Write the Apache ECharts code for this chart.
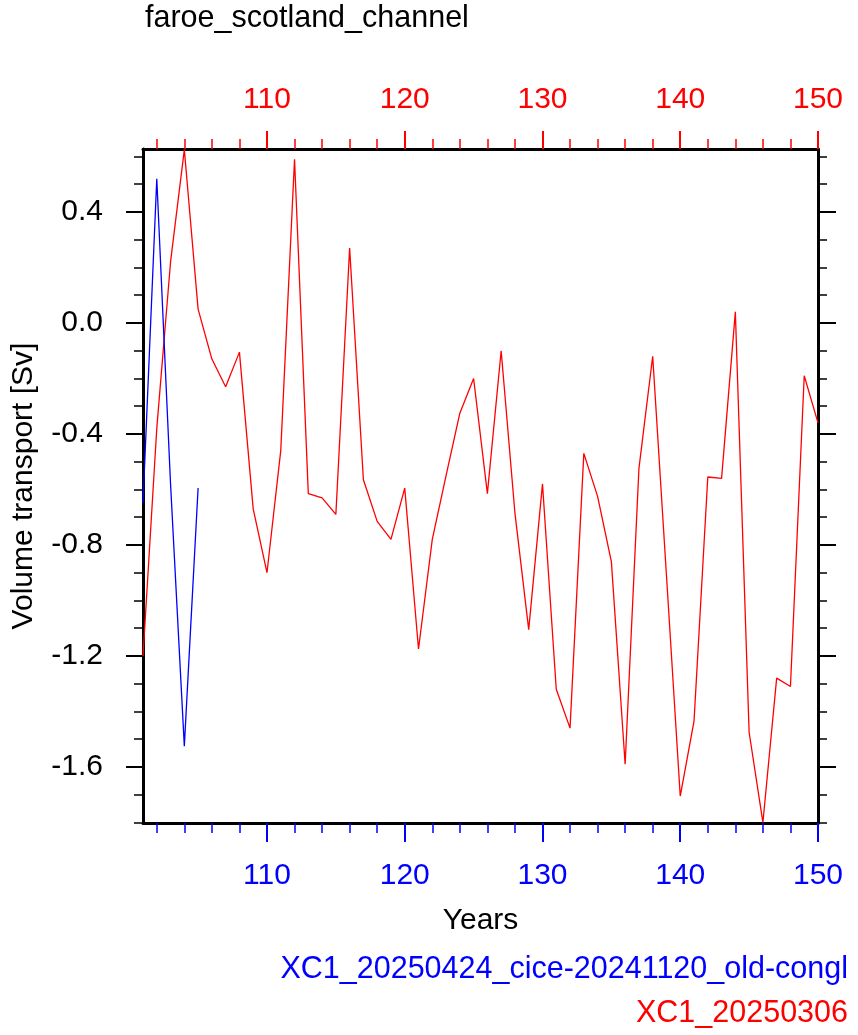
<!DOCTYPE html>
<html>
<head>
<meta charset="utf-8">
<script src="https://cdn.jsdelivr.net/npm/echarts@6/dist/echarts.min.js"></script>
<style>
  html, body { margin: 0; padding: 0; background: #fff; }
  #main { width: 858px; height: 1035px; }
</style>
</head>
<body>
<div id="main"></div>
<script>
var years = [101, 102, 103, 104, 105, 106, 107, 108, 109, 110,
  111, 112, 113, 114, 115, 116, 117, 118, 119, 120,
  121, 122, 123, 124, 125, 126, 127, 128, 129, 130,
  131, 132, 133, 134, 135, 136, 137, 138, 139, 140,
  141, 142, 143, 144, 145, 146, 147, 148, 149, 150];

// XC1_20250306 (red, full run)
var redValues = [-1.20, -0.38, 0.22, 0.625, 0.05, -0.13, -0.23, -0.105, -0.67, -0.90,
  -0.46, 0.59, -0.615, -0.63, -0.69, 0.27, -0.565, -0.715, -0.78, -0.595,
  -1.175, -0.78, -0.55, -0.325, -0.20, -0.615, -0.10, -0.685, -1.105, -0.58,
  -1.32, -1.46, -0.47, -0.625, -0.86, -1.59, -0.525, -0.12, -0.91, -1.705,
  -1.435, -0.555, -0.56, 0.04, -1.475, -1.80, -1.28, -1.31, -0.19, -0.36];

// XC1_20250424_cice-20241120_old-congl (blue, first 5 years only)
var blueYears = [101, 102, 103, 104, 105];
var blueValues = [-0.65, 0.52, -0.58, -1.525, -0.595];

var xMajorTicks = [110, 120, 130, 140, 150];
var xMinorTicks = [102, 104, 106, 108, 112, 114, 116, 118, 122, 124, 126, 128,
  132, 134, 136, 138, 142, 144, 146, 148];
var yMajorTicks = [-1.6, -1.2, -0.8, -0.4, 0.0, 0.4];
var yMinorTicks = [-1.8, -1.7, -1.5, -1.4, -1.3, -1.1, -1.0, -0.9, -0.7, -0.6,
  -0.5, -0.3, -0.2, -0.1, 0.1, 0.2, 0.3, 0.5, 0.6];

var xMin = 101, xMax = 150;
var yMin = -1.802, yMax = 0.627;

var font = 'Liberation Sans, Arial, Helvetica, sans-serif';

function zip(xs, ys) {
  var out = [];
  for (var i = 0; i < xs.length; i++) out.push([xs[i], ys[i]]);
  return out;
}

function xAx(pos, ticks, len, color, major, margin) {
  return {
    type: 'value', position: pos, min: xMin, max: xMax,
    axisLine: { show: major, onZero: false, lineStyle: { color: '#000', width: 3 } },
    axisTick: { show: true, customValues: ticks, length: len, lineStyle: { color: color, width: major ? 2 : 1.5 } },
    axisLabel: {
      show: major, customValues: ticks, margin: margin,
      color: color, fontSize: 30, fontFamily: font
    },
    splitLine: { show: false }
  };
}

function yAx(pos, ticks, len, major, labels) {
  return {
    type: 'value', position: pos, min: yMin, max: yMax,
    axisLine: { show: major, onZero: false, lineStyle: { color: '#000', width: 3 } },
    axisTick: { show: true, customValues: ticks, length: len, lineStyle: { color: '#000', width: major ? 2 : 1.5 } },
    axisLabel: {
      show: labels, customValues: ticks, margin: 40,
      color: '#000', fontSize: 30, fontFamily: font,
      formatter: function (v) { return v.toFixed(1); }
    },
    splitLine: { show: false }
  };
}

var chart = echarts.init(document.getElementById('main'));

var xBottom = xAx('bottom', xMajorTicks, 19, '#0000ff', true, 38);
xBottom.name = 'Years';
xBottom.nameLocation = 'middle';
xBottom.nameGap = 83;
xBottom.nameTextStyle = { color: '#000', fontSize: 30, fontFamily: font };

var yLeft = yAx('left', yMajorTicks, 17, true, true);
yLeft.name = 'Volume transport [Sv]';
yLeft.nameLocation = 'middle';
yLeft.nameGap = 104;
yLeft.nameTextStyle = { color: '#000', fontSize: 30, fontFamily: font };

var option = {
  animation: false,
  backgroundColor: '#fff',
  title: [
    { text: 'faroe_scotland_channel', left: 145, top: 3, padding: 0,
      textStyle: { color: '#000', fontSize: 30.5, fontWeight: 'normal', fontFamily: font } },
    { text: 'XC1_20250424_cice-20241120_old-congl', right: 10, top: 954, padding: 0,
      textStyle: { color: '#0000ff', fontSize: 30.5, fontWeight: 'normal', fontFamily: font } },
    { text: 'XC1_20250306', right: 10, top: 998, padding: 0,
      textStyle: { color: '#ff0000', fontSize: 30.5, fontWeight: 'normal', fontFamily: font } }
  ],
  grid: { left: 143, right: 40, top: 149, bottom: 212 },
  xAxis: [
    xBottom,
    xAx('bottom', xMinorTicks, 10, '#0000ff', false, 38),
    xAx('top', xMajorTicks, 18, '#ff0000', true, 34),
    xAx('top', xMinorTicks, 10, '#ff0000', false, 34)
  ],
  yAxis: [
    yLeft,
    yAx('left', yMinorTicks, 9, false, false),
    yAx('right', yMajorTicks, 18, true, false),
    yAx('right', yMinorTicks, 9, false, false)
  ],
  series: [
    {
      name: 'XC1_20250306', type: 'line', xAxisIndex: 2, yAxisIndex: 0,
      data: zip(years, redValues), showSymbol: false,
      lineStyle: { color: '#ff0000', width: 1.3 }
    },
    {
      name: 'XC1_20250424_cice-20241120_old-congl', type: 'line', xAxisIndex: 0, yAxisIndex: 0,
      data: zip(blueYears, blueValues), showSymbol: false,
      lineStyle: { color: '#0000ff', width: 1.3 }
    }
  ]
};

chart.setOption(option);
</script>
</body>
</html>
